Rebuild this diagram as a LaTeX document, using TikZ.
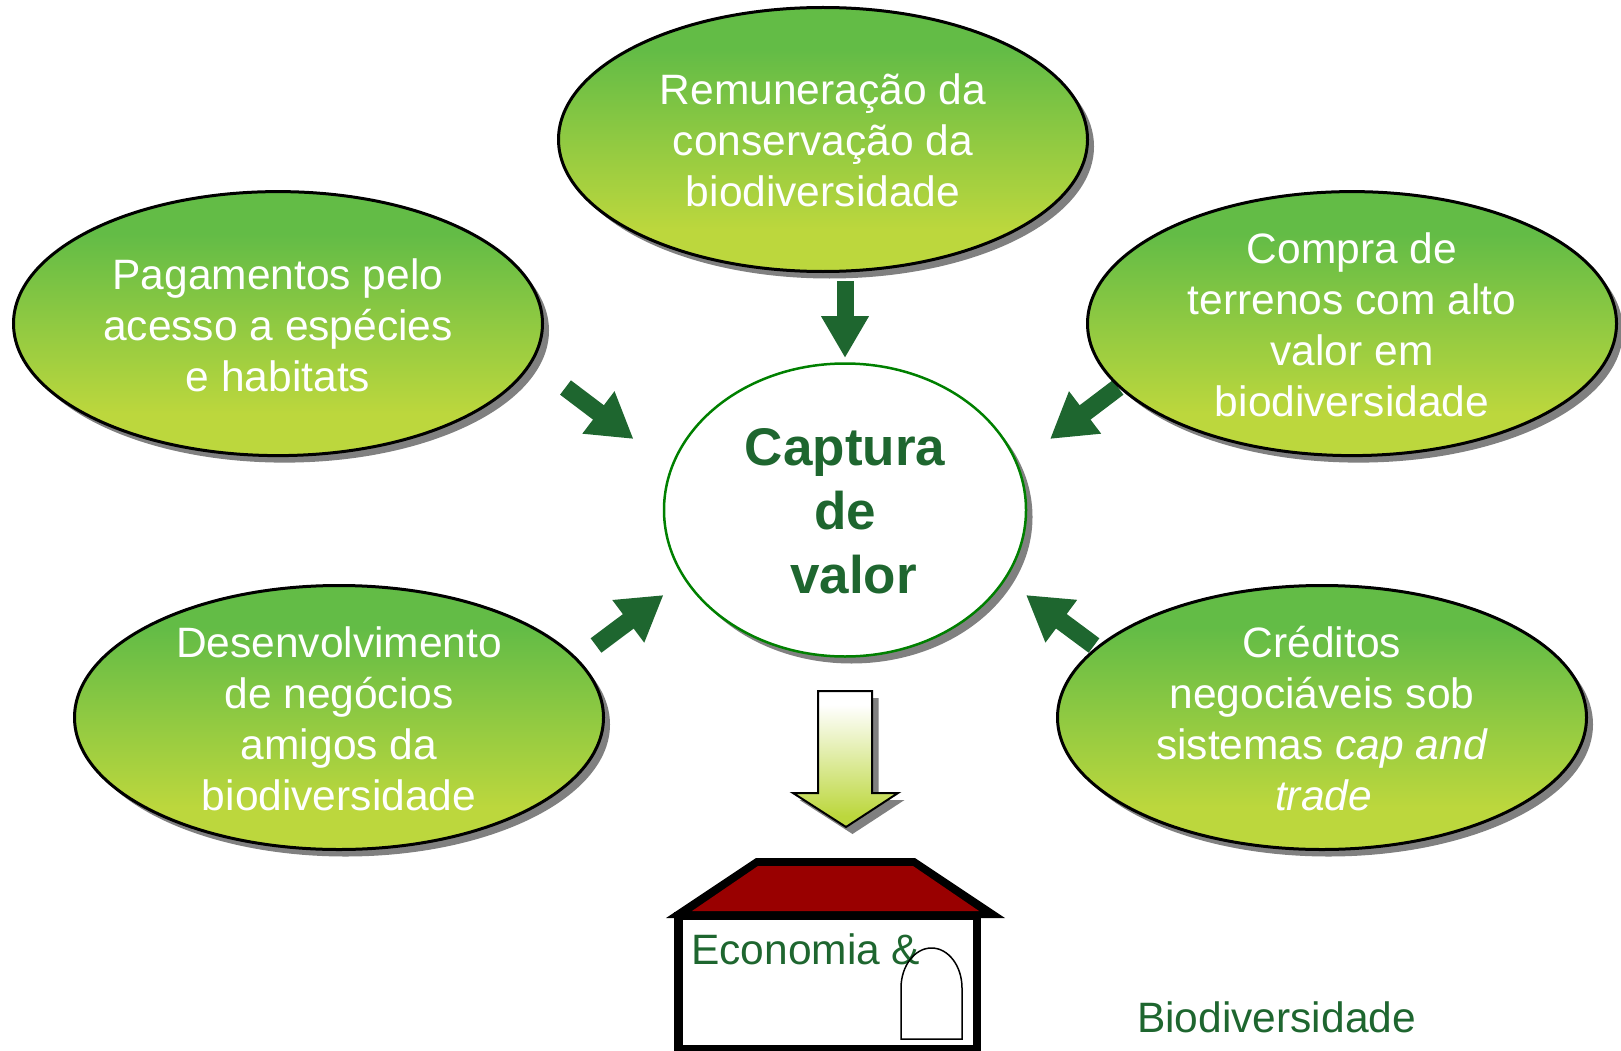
\documentclass[tikz,border=0pt]{standalone}
\usepackage{fontspec}
\setmainfont{Liberation Sans}
\usetikzlibrary{shapes.geometric,shadows,arrows.meta}
\definecolor{darkleaf}{HTML}{1E662F}
\definecolor{shadowgray}{HTML}{808080}
\definecolor{roofred}{HTML}{990000}
\definecolor{ringgreen}{HTML}{008000}
\pgfdeclareverticalshading{ovalgreen}{100bp}{rgb(0bp)=(0.737,0.843,0.239);rgb(33bp)=(0.737,0.843,0.239);rgb(67bp)=(0.388,0.737,0.275);rgb(100bp)=(0.388,0.737,0.275)}
\pgfdeclareverticalshading{arrowfade}{100bp}{rgb(0bp)=(0.737,0.843,0.239);rgb(29bp)=(0.737,0.843,0.239);rgb(70bp)=(1,1,1);rgb(100bp)=(1,1,1)}
\tikzset{
  softshadow/.style={drop shadow={shadow xshift=6.5pt,shadow yshift=-7pt,fill=shadowgray,opacity=1}},
  oval/.style={ellipse,draw=black,line width=3pt,inner sep=0pt,minimum width=529pt,minimum height=264pt,shading=ovalgreen,softshadow},
  ovaltext/.style={text=white,align=center,inner sep=0pt,font=\fontsize{42.5}{51}\selectfont},
  hub/.style={ellipse,draw=ringgreen,line width=2.5pt,fill=white,inner sep=0pt,minimum width=362pt,minimum height=293pt,softshadow},
  hubtext/.style={text=darkleaf,align=center,inner sep=0pt,font=\fontsize{53}{64}\selectfont\bfseries},
  blockarrow/.style={draw=darkleaf,line width=17pt,-{Triangle[length=42pt,width=45pt]}},
  slantarrow/.style={draw=darkleaf,line width=18pt,-{Triangle[length=44pt,width=50pt]}},
  plainlabel/.style={text=darkleaf,anchor=base west,inner sep=0pt,font=\fontsize{42.5}{51}\selectfont},
}
\begin{document}
\begin{tikzpicture}[x=1pt,y=-1pt]
\useasboundingbox (0,0) rectangle (1621,1051);
% connector end points
\coordinate (tS) at (845,281);    \coordinate (tE) at (845,358);
\coordinate (ltS) at (565.5,387.5); \coordinate (ltE) at (633.5,439);
\coordinate (rtS) at (1118,387.5); \coordinate (rtE) at (1050,439);
\coordinate (lbS) at (596,645.5); \coordinate (lbE) at (663.5,595);
\coordinate (rbS) at (1094,645.5); \coordinate (rbE) at (1026,595);
\draw[blockarrow] (tS) -- (tE);
\draw[slantarrow] (ltS) -- (ltE);
\draw[slantarrow] (rtS) -- (rtE);
\draw[slantarrow] (lbS) -- (lbE);
\draw[slantarrow] (rbS) -- (rbE);
% ovals
\node[oval] (top) at (823,139.5) {};
\node[ovaltext] (topT) at ([yshift=-0.5pt]top.center) {Remuneração da\\conservação da\\biodiversidade};
\node[oval] (left) at (278,323.6) {};
\node[ovaltext] (leftT) at ([yshift=-1.5pt]left.center) {Pagamentos pelo\\acesso a espécies\\e habitats};
\node[oval] (right) at (1352,323.6) {};
\node[ovaltext] (rightT) at ([yshift=-1.5pt]right.center) {Compra de\\terrenos com alto\\valor em\\biodiversidade};
\node[oval] (lowleft) at (339,717.5) {};
\node[ovaltext] (lowleftT) at ([yshift=-1pt]lowleft.center) {Desenvolvimento\\de negócios\\amigos da\\biodiversidade};
\node[oval] (lowright) at (1322,717.5) {};
\node[ovaltext] (lowrightT) at ([yshift=-1pt]lowright.center) {Créditos\\negociáveis sob\\sistemas \textit{cap and}\\\hspace*{3pt}\textit{trade}};
% hub
\node[hub] (hub) at (845,510) {};
\node[hubtext] (hubT) at ([yshift=-1.5pt]hub.center) {Captura\\de\\\hspace*{17pt}valor};
% big down arrow
\path[draw=black,line width=2pt,miter limit=10,shading=arrowfade,softshadow]
  (818,691) -- (872,691) -- (872,793) -- (898,793) -- (846,827) -- (793,793) -- (818,793) -- cycle;
% house
\draw[black,line width=8.5pt] (678.5,916) rectangle (977,1049.5);
\fill[black] (756,858) -- (915,858) -- (1005,918) -- (666,918) -- cycle;
\fill[roofred] (758,866) -- (913,866) -- (979,911) -- (692,911) -- cycle;
\node[plainlabel] (econ) at (691,964) {Economia \&};
\draw[black,line width=1.5pt] (901,1039) -- (901,988) arc[start angle=180,end angle=0,x radius=30.5pt,y radius=40pt] -- (962,1039) -- cycle;
\node[plainlabel] (bio) at (1137,1032) {Biodiversidade};
\end{tikzpicture}
\end{document}
